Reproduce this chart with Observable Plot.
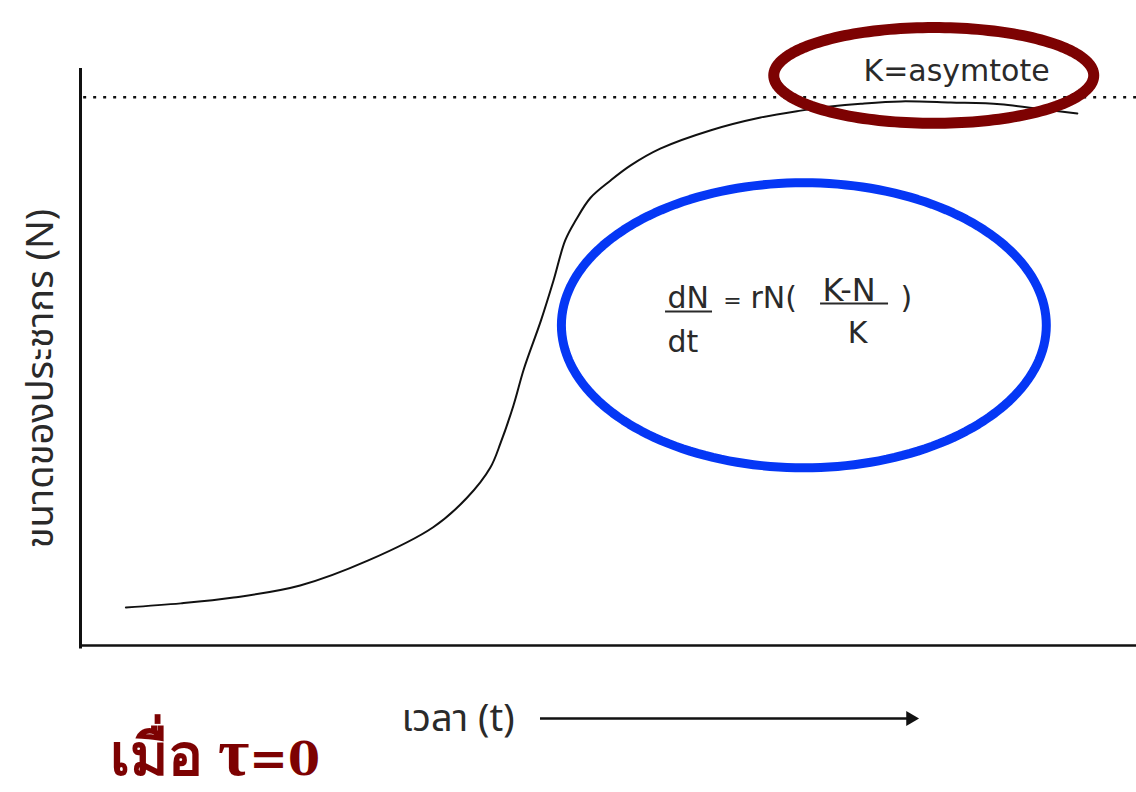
<!DOCTYPE html>
<html>
<head>
<meta charset="utf-8">
<script src="https://cdn.jsdelivr.net/npm/d3@7"></script>
<script src="https://cdn.jsdelivr.net/npm/@observablehq/plot@0.6"></script>
<style>
  html, body { margin: 0; padding: 0; background: #fff; overflow: hidden; }
  svg { display: block; }
</style>
</head>
<body>
<div id="chart"></div>
<script>
// Logistic population growth: time t vs population size N
const timeT = [4.3, 9.5, 14.5, 20.8, 27.2, 33.4, 36.6, 38.8, 39.8, 41.0, 42.0, 43.6, 44.8, 45.9, 46.9, 48.3, 50.2, 52.1, 54.9, 59.7, 64.4, 68.2, 71.0, 73.9, 77.7, 82.4, 87.1, 91.2, 94.4];
const popN  = [6.6, 7.3, 8.3, 10.4, 14.7, 20.5, 25.6, 30.8, 35.2, 41.6, 48.0, 56.3, 63.3, 70.2, 73.7, 77.6, 80.6, 83.2, 86.1, 89.3, 91.5, 92.7, 93.4, 93.9, 94.3, 94.1, 93.8, 92.9, 92.2];

// Carrying capacity (asymptote)
const carryingK = 95;

// Highlight ellipses: [centerT, centerN, radiusT, radiusN]
const asymptoteRing = [80.8, 98.8, 15.15, 8.3];
const equationRing  = [68.5, 55.5, 22.96, 24.7];

// Labels
const yLabel = "ขนาดของประชากร (N)";
const xLabel = "เวลา (t)";
const kLabel = "K=asymtote";
const noteLabel = "เมื่อ τ=0";

const curve = timeT.map((t, i) => ({t, n: popN[i]}));

function ring([ct, cn, rt, rn]) {
  return d3.range(0, 361, 2).map(a => {
    const r = a * Math.PI / 180;
    return {t: ct + rt * Math.cos(r), n: cn + rn * Math.sin(r)};
  });
}

const sans = "'DejaVu Sans', 'Noto Sans', sans-serif";
const thai = "'Noto Sans Thai', 'Loma', 'Garuda', 'Tlwg Typo', 'DejaVu Sans', sans-serif";
const ink = "#2a2a2a";
const maroon = "#7d0202";

function label(t, n, text, opts = {}) {
  return Plot.text([{t, n, text}], {
    x: "t", y: "n", text: "text",
    textAnchor: "start", lineAnchor: "bottom",
    fill: ink, fontFamily: sans, fontSize: 30,
    ...opts
  });
}

const chart = Plot.plot({
  width: 1136,
  height: 792,
  marginLeft: 80,
  marginRight: 0,
  marginTop: 68,
  marginBottom: 147,
  x: {domain: [0, 100], axis: null},
  y: {domain: [0, 100], axis: null},
  marks: [
    // axes
    Plot.ruleX([0], {stroke: "#111", strokeWidth: 3, y1: 100, y2: -0.6}),
    Plot.ruleY([0], {stroke: "#111", strokeWidth: 2.5}),
    // asymptote K
    Plot.ruleY([carryingK], {x1: 0.3, x2: 100, stroke: "#111", strokeWidth: 2.5, strokeDasharray: "3 7"}),
    // growth curve
    Plot.line(curve, {x: "t", y: "n", curve: "catmull-rom", stroke: "#111", strokeWidth: 2}),
    // highlight rings
    Plot.line(ring(asymptoteRing), {x: "t", y: "n", stroke: maroon, strokeWidth: 11}),
    Plot.line(ring(equationRing), {x: "t", y: "n", stroke: "#0537f5", strokeWidth: 9}),
    // K label
    label(74.15, 97.9, kLabel),
    // equation dN/dt = rN((K-N)/K)
    label(55.59, 58.41, "dN"),
    Plot.ruleY([57.89], {x1: 55.4, x2: 59.85, stroke: ink, strokeWidth: 2}),
    label(55.59, 50.78, "dt"),
    label(61.74, 58.41, "=", {textAnchor: "middle", fontSize: 22}),
    label(63.45, 58.41, "rN("),
    label(70.27, 59.79, "K-N", {fontSize: 32}),
    Plot.ruleY([59.27], {x1: 70.08, x2: 76.52, stroke: ink, strokeWidth: 2}),
    label(73.58, 52.34, "K", {textAnchor: "middle"}),
    label(77.65, 58.41, ")"),
    // axis titles
    Plot.text([{t: -3.8, n: 46.27, text: yLabel}], {
      x: "t", y: "n", text: "text", rotate: -90,
      textAnchor: "middle", lineAnchor: "middle",
      fill: ink, fontFamily: thai, fontSize: 38
    }),
    Plot.text([{t: 30.4, n: -12.65, text: xLabel}], {
      x: "t", y: "n", text: "text",
      textAnchor: "start", lineAnchor: "middle",
      fill: ink, fontFamily: thai, fontSize: 38
    }),
    // time arrow
    Plot.ruleY([-12.65], {x1: 43.56, x2: 78.6, stroke: "#111", strokeWidth: 2.5}),
    Plot.dot([{t: 78.6, n: -12.65}], {x: "t", y: "n", symbol: "triangle", rotate: 90, r: 5.5, fill: "#111", stroke: "none"}),
    // note
    Plot.text([{t: 2.84, n: -22.5, text: noteLabel}], {
      x: "t", y: "n", text: "text",
      textAnchor: "start", lineAnchor: "bottom",
      fill: maroon, fontFamily: "'Liberation Serif', serif",
      fontWeight: "bold", fontSize: 50
    })
  ]
});

// Give the Thai word, the tau and "=0" their own sizes within the note
d3.select(chart).selectAll("text")
  .filter(function () { return this.textContent === noteLabel; })
  .each(function () {
    const el = d3.select(this);
    const parts = noteLabel.split(/(τ)/);
    const styles = [
      {size: 58, family: "'Liberation Serif', serif"},
      {size: 68, family: "'Liberation Serif', serif"},
      {size: 46, family: "'DejaVu Serif', serif"}
    ];
    el.text(null);
    parts.forEach((p, i) => {
      el.append("tspan")
        .attr("font-size", styles[i].size)
        .attr("font-family", styles[i].family)
        .text(p);
    });
  });

document.getElementById("chart").appendChild(chart);
</script>
</body>
</html>
